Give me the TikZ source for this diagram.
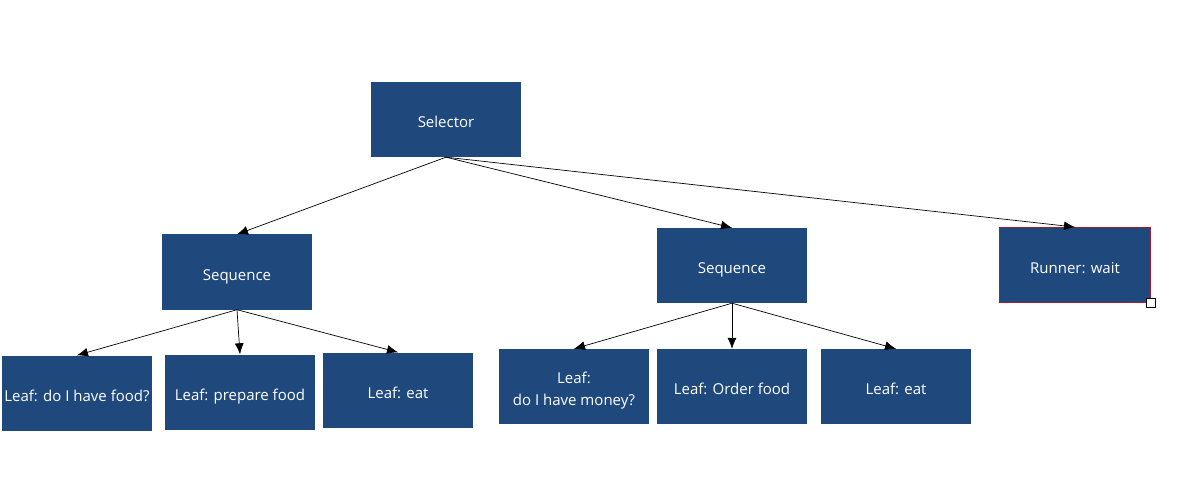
\documentclass[tikz,border=0pt]{standalone}
\usepackage{fontspec}
\setmainfont{Open Sans}
\usetikzlibrary{arrows.meta}
\definecolor{boxblue}{RGB}{31,73,125}
\definecolor{runnerred}{RGB}{160,30,45}
\tikzset{
  treenode/.style  = {shape=rectangle, fill=boxblue, text=white, align=center,
                      minimum width=150pt, minimum height=75pt,
                      inner xsep=0pt, inner ysep=2pt,
                      text height=16pt, text depth=0pt,
                      font=\fontsize{15}{22}\selectfont},
  composite/.style = {treenode},
  leaf/.style      = {treenode},
  twoline/.style   = {text height=37pt, text depth=0pt},
  runner/.style    = {treenode, draw=runnerred, line width=0.9pt,
                      minimum width=151pt},
  grip/.style      = {shape=rectangle, draw=black, fill=white,
                      minimum size=9pt, inner sep=0pt, line width=0.8pt}
}

\begin{document}
\begin{tikzpicture}
  [
    grow                    = down,
    level 1/.style          = {level distance=146pt, sibling distance=420pt},
    level 2/.style          = {level distance=121pt, sibling distance=160pt},
    edge from parent/.style = {draw, line width=0.7pt, -{Latex[length=11pt,width=9pt]}},
    parent anchor           = south,
    child anchor            = north
  ]
  \useasboundingbox (-446pt,119.5pt) rectangle (752pt,-361.5pt);
  \node [composite] (selector) {Selector}
    child [xshift=211pt, yshift=-6.5pt] { node [composite] (seqA) {Sequence}
      child { node [leaf] (haveFood) {Leaf: do I have food?} }
      child [xshift=3pt, yshift=1pt] { node [leaf] (prepare) {Leaf: prepare food} }
      child [xshift=1pt, yshift=3pt] { node [leaf] (eatA) {Leaf: eat} } }
    child [xshift=286pt] { node [composite] (seqB) {Sequence}
      child [xshift=2pt] { node [leaf, twoline] (haveMoney) {Leaf:\\do I have money?} }
      child { node [leaf] (order) {Leaf: Order food} }
      child [xshift=4pt] { node [leaf] (eatB) {Leaf: eat} } }
    child [xshift=209pt, yshift=0.5pt] { node [runner] (wait) {Runner: wait} };
  \node [grip] (grip) at (wait.south east) {};
\end{tikzpicture}
\end{document}
